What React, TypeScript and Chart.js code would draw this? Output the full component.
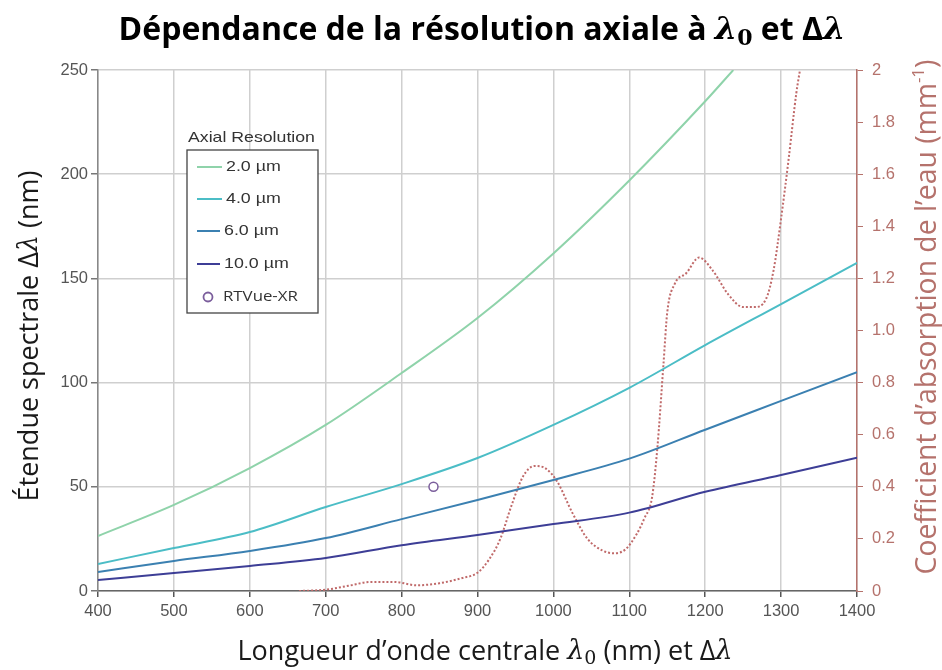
import React, { useEffect, useRef } from "react";
import { Chart, registerables } from "chart.js";

Chart.register(...registerables);

// ---------- DATA ----------
const wl = [400, 500, 600, 700, 800, 900, 1000, 1100, 1200, 1300, 1400];
const wl2 = [400, 500, 600, 700, 800, 900, 1000, 1100, 1200, 1237];
const res2 = [26.4, 41.3, 59, 79.7, 104.6, 131, 162, 197, 235, 250];
const res4 = [13, 20.6, 28.3, 40.3, 51.3, 63.8, 79.7, 97.5, 118, 137.7, 157.5];
const res6 = [9.1, 14.4, 19.2, 25.4, 34.5, 43.7, 53.3, 63.5, 77.4, 91.2, 105];
const res10 = [5.3, 8.6, 12, 15.8, 22, 26.9, 32.1, 37.6, 47.6, 55.7, 64];
const rtvueX = [842];
const rtvueY = [50];
const waterWl = [665, 700, 730, 760, 790, 820, 850, 880, 900, 915, 930, 945, 960, 975, 990, 1005, 1025, 1045, 1065, 1080, 1095, 1110, 1120, 1130, 1137, 1145, 1150, 1160, 1175, 1192, 1210, 1230, 1250, 1265, 1280, 1290, 1300, 1310, 1320, 1326];
const waterAbs = [0, 0.005, 0.02, 0.035, 0.035, 0.022, 0.03, 0.05, 0.07, 0.12, 0.2, 0.33, 0.44, 0.48, 0.47, 0.42, 0.3, 0.2, 0.155, 0.145, 0.16, 0.22, 0.28, 0.36, 0.55, 0.87, 1.07, 1.18, 1.22, 1.28, 1.23, 1.14, 1.09, 1.09, 1.12, 1.23, 1.43, 1.66, 1.91, 2.02];
const seriesLabels = ["2.0 µm", "4.0 µm", "6.0 µm", "10.0 µm", "RTVue-XR", "Eau"];
const legendTitle = "Axial Resolution";
const xTickValues = [400, 500, 600, 700, 800, 900, 1000, 1100, 1200, 1300, 1400];

const zip = (xs: number[], ys: number[]) => xs.map((x, i) => ({ x, y: ys[i] }));

type Seg = { t: string; font: string; dy?: number };

function drawRich(ctx: CanvasRenderingContext2D, segs: Seg[], x: number, y: number, angle: number, color: string) {
  ctx.save();
  ctx.translate(x, y);
  ctx.rotate(angle);
  ctx.fillStyle = color;
  ctx.textBaseline = "middle";
  ctx.textAlign = "left";
  let total = 0;
  const widths = segs.map((s) => {
    ctx.font = s.font;
    const w = ctx.measureText(s.t).width;
    total += w;
    return w;
  });
  let cx = -total / 2;
  segs.forEach((s, i) => {
    ctx.font = s.font;
    ctx.fillText(s.t, cx, s.dy || 0);
    cx += widths[i];
  });
  ctx.restore();
}

function drawStretched(ctx: CanvasRenderingContext2D, text: string, x: number, y: number, font: string, sx: number) {
  ctx.save();
  ctx.translate(x, y);
  ctx.scale(sx, 1);
  ctx.font = font;
  ctx.fillText(text, 0, 0);
  ctx.restore();
}

const SANS = '"Open Sans"';
const MATH = '"DejaVu Serif"';

const titleSegs: Seg[] = [
  { t: "Dépendance de la résolution axiale à ", font: `bold 32px ${SANS}` },
  { t: "λ", font: `bold italic 32px ${MATH}` },
  { t: "0", font: `bold 22px ${MATH}`, dy: 8 },
  { t: " et Δ", font: `bold 32px ${SANS}` },
  { t: "λ", font: `bold italic 32px ${MATH}` },
];
const xTitleSegs: Seg[] = [
  { t: "Longueur d’onde centrale ", font: `27px ${SANS}` },
  { t: "λ", font: `italic 27px ${MATH}` },
  { t: "0", font: `19px ${MATH}`, dy: 7 },
  { t: " (nm) et Δ", font: `27px ${SANS}` },
  { t: "λ", font: `italic 27px ${MATH}` },
];
const yTitleSegs: Seg[] = [
  { t: "Étendue spectrale Δ", font: `27px ${SANS}` },
  { t: "λ", font: `italic 27px ${MATH}` },
  { t: " (nm)", font: `27px ${SANS}` },
];
const y2TitleSegs: Seg[] = [
  { t: "Coefficient d’absorption de l’eau (mm", font: `28.3px ${SANS}` },
  { t: "-1", font: `17px ${SANS}`, dy: -9 },
  { t: ")", font: `28.3px ${SANS}` },
];

const overlayPlugin = {
  id: "overlay",
  afterDraw(chart: any) {
    const ctx: CanvasRenderingContext2D = chart.ctx;
    drawRich(ctx, titleSegs, 482, 31, 0, "#000");
    drawRich(ctx, xTitleSegs, 485, 652, 0, "#1a1a1a");
    drawRich(ctx, yTitleSegs, 30, 336, -Math.PI / 2, "#1a1a1a");
    drawRich(ctx, y2TitleSegs, 928, 317, -Math.PI / 2, "#b5726c");

    // legend
    const bx = 187, by = 150, bw = 131, bh = 163;
    ctx.save();
    ctx.fillStyle = "#fff";
    ctx.fillRect(bx, by, bw, bh);
    ctx.strokeStyle = "#444";
    ctx.lineWidth = 1.3;
    ctx.strokeRect(bx, by, bw, bh);
    ctx.fillStyle = "#333";
    ctx.textBaseline = "middle";
    ctx.textAlign = "left";
    drawStretched(ctx, legendTitle, 188, 138, '15px "Liberation Sans"', 1.18);
    const ys = [167, 199, 231, 264, 297];
    const lineEnd = [222, 222, 220, 220];
    const ds = chart.data.datasets;
    for (let i = 0; i < 4; i++) {
      ctx.strokeStyle = ds[i].borderColor;
      ctx.lineWidth = 2;
      ctx.beginPath();
      ctx.moveTo(197, ys[i]);
      ctx.lineTo(lineEnd[i], ys[i]);
      ctx.stroke();
      ctx.fillStyle = "#333";
      drawStretched(ctx, ds[i].label, lineEnd[i] + 4, ys[i], '15.5px "Liberation Sans"', 1.15);
    }
    ctx.strokeStyle = ds[4].borderColor;
    ctx.lineWidth = 1.8;
    ctx.beginPath();
    ctx.arc(208, ys[4], 4.5, 0, Math.PI * 2);
    ctx.stroke();
    ctx.fillStyle = "#333";
    drawStretched(ctx, ds[4].label, 223, ys[4], `15px ${SANS}`, 1.12);
    ctx.restore();
  },
};

export default function App() {
  const ref = useRef<HTMLCanvasElement | null>(null);
  useEffect(() => {
    document.body.style.margin = "0";
    const canvas = ref.current!;
    const tickFont = { family: '"Liberation Sans"', size: 16.5 };
    const chart = new Chart(canvas, {
      type: "line",
      data: {
        datasets: [
          { label: seriesLabels[0], data: zip(wl2, res2), borderColor: "#8fd3aa", borderWidth: 2, pointRadius: 0, cubicInterpolationMode: "monotone", yAxisID: "y" },
          { label: seriesLabels[1], data: zip(wl, res4), borderColor: "#4bbdc6", borderWidth: 2, pointRadius: 0, cubicInterpolationMode: "monotone", yAxisID: "y" },
          { label: seriesLabels[2], data: zip(wl, res6), borderColor: "#3b80b1", borderWidth: 2, pointRadius: 0, cubicInterpolationMode: "monotone", yAxisID: "y" },
          { label: seriesLabels[3], data: zip(wl, res10), borderColor: "#3d3e96", borderWidth: 2, pointRadius: 0, cubicInterpolationMode: "monotone", yAxisID: "y" },
          { label: seriesLabels[4], data: zip(rtvueX, rtvueY), borderColor: "#7b5e9c", backgroundColor: "#ffffff", showLine: false, pointRadius: 4.5, pointBorderWidth: 1.5, yAxisID: "y" },
          { label: seriesLabels[5], data: zip(waterWl, waterAbs), borderColor: "#c06a6a", borderWidth: 2, borderDash: [2, 2], pointRadius: 0, cubicInterpolationMode: "monotone", yAxisID: "y2" },
        ] as any,
      },
      options: {
        animation: false,
        responsive: false,
        layout: { padding: { top: 70, left: 0, right: 0, bottom: 0 } },
        plugins: { legend: { display: false }, title: { display: false }, tooltip: { enabled: false } },
        scales: {
          x: {
            type: "linear",
            min: 400,
            max: 1400,
            afterBuildTicks: (s: any) => { s.ticks = xTickValues.map((v) => ({ value: v })); },
            afterFit: (s: any) => { s.height = 79; },
            ticks: { color: "#555", font: tickFont, padding: 5, maxRotation: 0, callback: (v: any) => String(v) },
            grid: { color: "#cfcfcf", lineWidth: 1.5, tickColor: "#555", tickLength: 6 },
            border: { color: "#666", width: 1.5 },
          },
          y: {
            type: "linear",
            position: "left",
            min: 0,
            max: 250,
            ticks: { stepSize: 50, color: "#555", font: tickFont, padding: 3 },
            afterFit: (s: any) => { s.width = 98; },
            grid: { color: "#cfcfcf", lineWidth: 1.5, tickColor: "#777", tickLength: 7 },
            border: { color: "#888", width: 1.5 },
          },
          y2: {
            type: "linear",
            position: "right",
            min: 0,
            max: 2,
            afterFit: (s: any) => { s.width = 85; },
            ticks: {
              stepSize: 0.2,
              color: "#b5726c",
              font: tickFont,
              padding: 9,
              callback: (v: any) => (v === 0 ? "0" : Math.abs(v - 2) < 1e-9 ? "2" : Number(v).toFixed(1)),
            },
            grid: { drawOnChartArea: false, tickColor: "#b5726c", tickLength: 6 },
            border: { color: "#b5726c", width: 1.5 },
          },
        },
      } as any,
      plugins: [overlayPlugin],
    });
    return () => chart.destroy();
  }, []);
  return (
    <div style={{ width: 942, height: 670, background: "#fff" }}>
      <canvas ref={ref} width={942} height={670} style={{ display: "block" }} />
    </div>
  );
}
